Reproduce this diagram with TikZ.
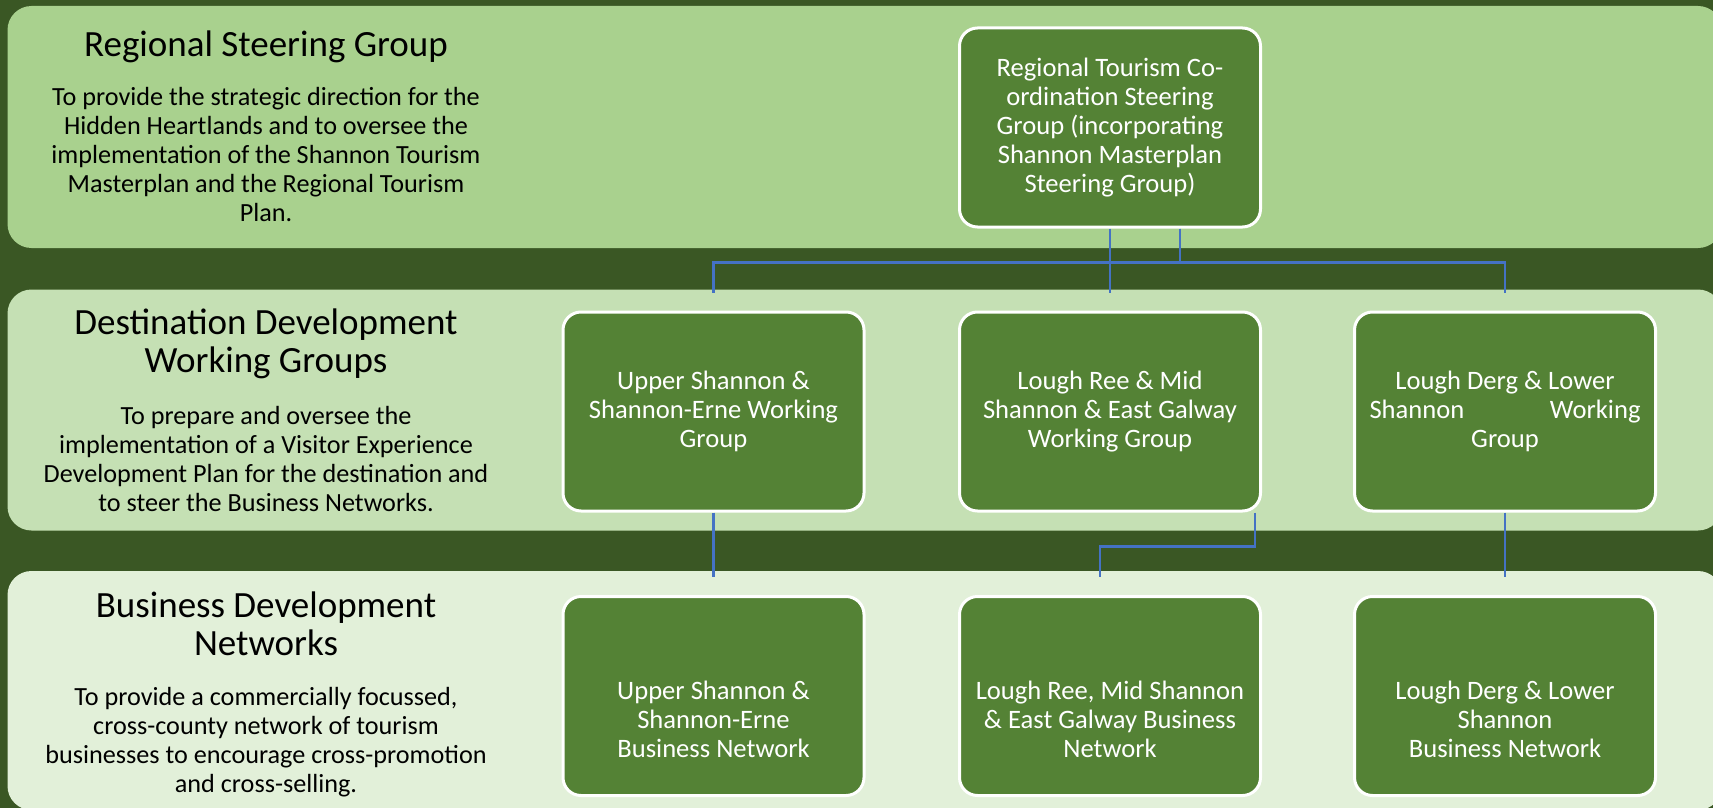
\documentclass[tikz,border=0pt]{standalone}
\usepackage{fontspec}
\setmainfont{Carlito}
\usetikzlibrary{calc}

\definecolor{bgdark}{HTML}{3A5724}
\definecolor{bandA}{HTML}{A9D18E}
\definecolor{bandB}{HTML}{C5E0B4}
\definecolor{bandC}{HTML}{E2F0D9}
\definecolor{boxgreen}{HTML}{548235}
\definecolor{linkblue}{HTML}{4472C4}

% empty space above the text of the network boxes
\newcommand{\netgap}{\rule{0pt}{33pt}}

\tikzset{
  grpbox/.style={draw=white, line width=1.5pt, fill=boxgreen, rounded corners=9pt,
    minimum width=150.5pt, minimum height=99.5pt, inner sep=0pt, align=center,
    text=white, font=\fontsize{13.3}{14.5}\selectfont},
  link/.style={draw=linkblue, line width=1.3pt},
  bandtitle/.style={anchor=base, align=center, inner sep=0pt,
    font=\fontsize{18.5}{19}\selectfont},
  bandtext/.style={anchor=base, align=center, inner sep=0pt,
    font=\fontsize{13.1}{14.5}\selectfont},
}

\begin{document}
\begin{tikzpicture}[x=0.5pt, y=-0.5pt]

    % Columns and rows of the group boxes
    \def\colA{713.5}   % left column
    \def\colB{1110}    % middle column
    \def\colC{1505}    % right column
    \def\rowT{127.5}   % steering group row
    \def\rowW{411.5}   % working group row
    \def\rowN{696}     % business network row
    \def\lx{266}       % centre of the text on the left

    \useasboundingbox (0,0) rectangle (1713,808);

    % Background and the three horizontal bands
    \fill[bgdark] (0,0) rectangle (1713,808);
    \fill[bandA, rounded corners=12pt] (7.5,6) rectangle (1722,248);
    \fill[bandB, rounded corners=12pt] (7.5,289.5) rectangle (1722,530.5);
    \fill[bandC, rounded corners=12pt] (7.5,571) rectangle (1722,810);

    % Band descriptions on the left (placed at the baseline of their last line)
    \node[bandtitle] (rsgTitle) at (\lx,57) {Regional Steering Group};
    \node[bandtext] (rsgText) at (\lx,221)
      {To provide the strategic direction for the\\Hidden Heartlands and to oversee the\\
       implementation of the Shannon Tourism\\Masterplan and the Regional Tourism\\Plan.};
    \node[bandtitle] (ddwTitle) at (\lx,372) {Destination Development\\Working Groups};
    \node[bandtext] (ddwText) at (\lx,511)
      {To prepare and oversee the\\implementation of a Visitor Experience\\
       Development Plan for the destination and\\to steer the Business Networks.};
    \node[bandtitle] (bdnTitle) at (\lx,655) {Business Development\\Networks};
    \node[bandtext] (bdnText) at (\lx,792)
      {To provide a commercially focussed,\\cross-county network of tourism\\
       businesses to encourage cross-promotion\\and cross-selling.};

    % Steering group
    \node[grpbox] (rtg) at (\colB,\rowT)
      {Regional Tourism Co-\\ordination Steering\\Group (incorporating\\Shannon Masterplan\\Steering Group)};

    % Working groups
    \node[grpbox] (wgUpper) at (\colA,\rowW) {Upper Shannon \&\\Shannon-Erne Working\\Group};
    \node[grpbox] (wgMid) at (\colB,\rowW) {Lough Ree \& Mid\\Shannon \& East Galway\\Working Group};
    \node[grpbox] (wgLower) at (\colC,\rowW)
      {Lough Derg \& Lower\\\makebox[135.5pt]{Shannon\hfill Working}\\Group};

    % Business networks
    \node[grpbox] (bnUpper) at (\colA,\rowN) {\netgap Upper Shannon \&\\Shannon-Erne\\Business Network};
    \node[grpbox] (bnMid) at (\colB,\rowN) {\netgap Lough Ree, Mid Shannon\\\& East Galway Business\\Network};
    \node[grpbox] (bnLower) at (\colC,\rowN) {\netgap Lough Derg \& Lower\\Shannon\\Business Network};

    % Connectors from the steering group
    \draw[link] (rtg.south) -- ($(wgMid.north)+(0,-18)$);
    \draw[link] ($(rtg.south)+(70,0)$) -- ++(0,34) -| ($(wgUpper.north)+(0,-18)$);
    \draw[link] ($(rtg.south)+(70,0)$) -- ++(0,34) -| ($(wgLower.north)+(0,-18)$);

    % Connectors from the working groups
    \draw[link] (wgUpper.south) -- ($(bnUpper.north)+(0,-18)$);
    \draw[link] ($(wgMid.south)+(145,0)$) -- ++(0,34) -| ($(bnMid.north)+(-10,-18)$);
    \draw[link] (wgLower.south) -- ($(bnLower.north)+(0,-18)$);

\end{tikzpicture}
\end{document}
